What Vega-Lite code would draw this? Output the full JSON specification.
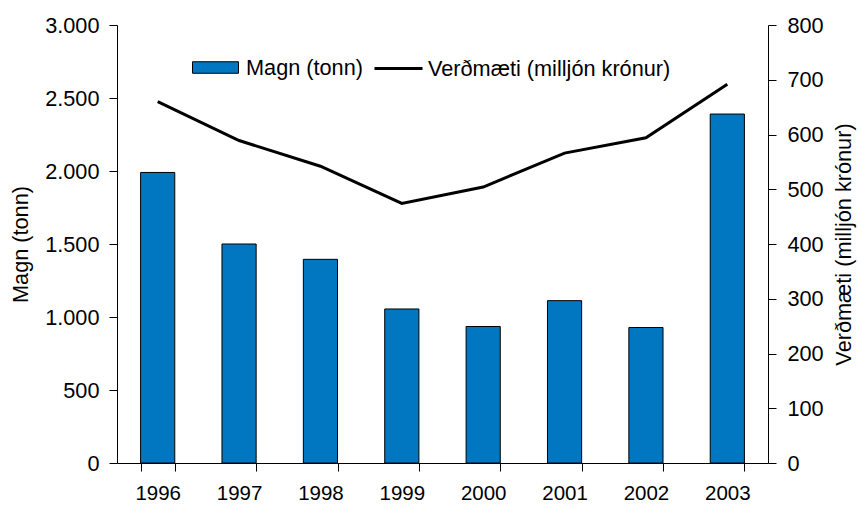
{
  "$schema": "https://vega.github.io/schema/vega-lite/v6.json",
  "width": 651,
  "height": 438,
  "autosize": {"type": "none"},
  "padding": {"left": 117, "top": 25, "right": 90, "bottom": 42},
  "background": "white",
  "config": {
    "font": "Liberation Sans",
    "view": {"stroke": null},
    "axis": {
      "labelFont": "Liberation Sans",
      "titleFont": "Liberation Sans",
      "labelFontSize": 21.7,
      "titleFontSize": 21.7,
      "titleFontWeight": "normal",
      "labelColor": "black",
      "titleColor": "black",
      "domainColor": "black",
      "tickColor": "black",
      "grid": false
    },
    "legend": {
      "labelFont": "Liberation Sans",
      "labelFontSize": 21.7,
      "labelColor": "black",
      "labelLimit": 500,
      "padding": 0
    }
  },
  "data": {
    "values": [
      {"year": "1996", "magn": 1990, "verd": 660},
      {"year": "1997", "magn": 1500, "verd": 589},
      {"year": "1998", "magn": 1395, "verd": 542},
      {"year": "1999", "magn": 1055, "verd": 474},
      {"year": "2000", "magn": 935, "verd": 504},
      {"year": "2001", "magn": 1112, "verd": 566},
      {"year": "2002", "magn": 928, "verd": 594},
      {"year": "2003", "magn": 2390, "verd": 692}
    ]
  },
  "encoding": {
    "x": {
      "field": "year",
      "type": "ordinal",
      "scale": {"paddingInner": 0.58, "paddingOuter": 0.29},
      "axis": {
        "title": null,
        "labelAngle": 0,
        "labelFontSize": 20.5,
        "tickBand": "extent",
        "tickSize": 8,
        "labelPadding": 12
      }
    }
  },
  "layer": [
    {
      "mark": {"type": "bar", "stroke": "black", "strokeWidth": 1},
      "encoding": {
        "y": {
          "field": "magn",
          "type": "quantitative",
          "scale": {"domain": [0, 3000], "nice": false},
          "axis": {
            "title": "Magn (tonn)",
            "orient": "left",
            "values": [0, 500, 1000, 1500, 2000, 2500, 3000],
            "labelExpr": "replace(format(datum.value, ','), ',', '.')",
            "tickSize": 8,
            "labelPadding": 10,
            "titlePadding": 12
          }
        },
        "fill": {
          "datum": "Magn (tonn)",
          "type": "nominal",
          "scale": {"range": ["#0077C0"]},
          "legend": {
            "title": null,
            "orient": "none",
            "legendX": 75,
            "legendY": 19,
            "symbolType": "M-1,-0.25H1V0.25H-1Z",
            "symbolSize": 2116,
            "symbolStrokeColor": "black",
            "symbolStrokeWidth": 1,
            "labelOffset": 7
          }
        }
      }
    },
    {
      "mark": {"type": "line", "strokeWidth": 3},
      "encoding": {
        "y": {
          "field": "verd",
          "type": "quantitative",
          "scale": {"domain": [0, 800], "nice": false},
          "axis": {
            "title": "Verðmæti (milljón krónur)",
            "orient": "right",
            "values": [0, 100, 200, 300, 400, 500, 600, 700, 800],
            "tickSize": 8,
            "labelPadding": 11,
            "titlePadding": 10,
            "titleAngle": 270,
            "titleBaseline": "top"
          }
        },
        "stroke": {
          "datum": "Verðmæti (milljón krónur)",
          "type": "nominal",
          "scale": {"range": ["black"]},
          "legend": {
            "title": null,
            "orient": "none",
            "legendX": 256,
            "legendY": 18,
            "symbolType": "stroke",
            "symbolSize": 2304,
            "symbolStrokeWidth": 3,
            "symbolStrokeColor": "black",
            "labelOffset": 4
          }
        }
      }
    }
  ],
  "resolve": {"scale": {"y": "independent"}}
}
